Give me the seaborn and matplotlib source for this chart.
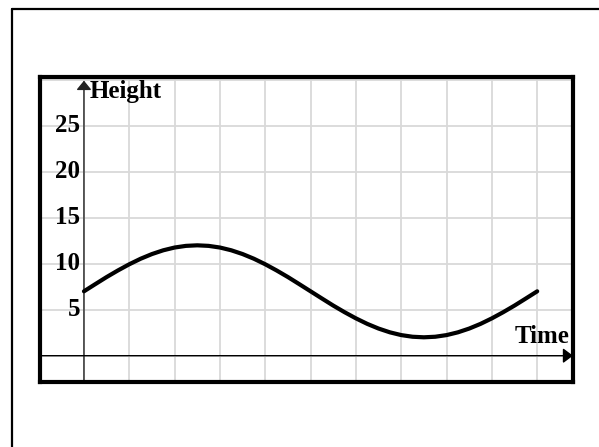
import matplotlib
matplotlib.use("Agg")
import matplotlib.pyplot as plt
from matplotlib.lines import Line2D
import seaborn as sns
import pandas as pd

# Data (time in grid units, height)
time = [0, 0.25, 0.5, 0.75, 1, 1.25, 1.5, 1.75, 2, 2.25, 2.5, 2.75, 3, 3.25, 3.5, 3.75,
        4, 4.25, 4.5, 4.75, 5, 5.25, 5.5, 5.75, 6, 6.25, 6.5, 6.75, 7, 7.25, 7.5, 7.75,
        8, 8.25, 8.5, 8.75, 9, 9.25, 9.5, 9.75, 10]
height = [7.00, 7.78, 8.55, 9.27, 9.94, 10.54, 11.05, 11.46, 11.76, 11.94, 12.00, 11.94,
          11.76, 11.46, 11.05, 10.54, 9.94, 9.27, 8.55, 7.78, 7.00, 6.22, 5.45, 4.73,
          4.06, 3.46, 2.95, 2.54, 2.24, 2.06, 2.00, 2.06, 2.24, 2.54, 2.95, 3.46, 4.06,
          4.73, 5.45, 6.22, 7.00]
y_tick_values = [5, 10, 15, 20, 25]
y_tick_labels = ["5", "10", "15", "20", "25"]
x_grid = list(range(0, 11))
y_grid = list(range(0, 31, 5))
x_label = "Time"
y_label = "Height"

sns.set_style("white")
plt.rcParams['font.family'] = ['Liberation Serif', 'DejaVu Serif']
plt.rcParams['text.color'] = 'black'

W, H = 599, 447
fig = plt.figure(figsize=(W / 100, H / 100), dpi=100)
left, right, top, bottom = 40, 573, 77, 382
ax = fig.add_axes([left / W, 1 - bottom / H, (right - left) / W, (bottom - top) / H])

df = pd.DataFrame({"Time": time, "Height": height})
sns.lineplot(data=df, x="Time", y="Height", ax=ax, color="black", linewidth=3.0,
             zorder=5, legend=False)

ax.set_xlim(-0.97, 10.79)
ax.set_ylim(-2.86, 30.3)
ax.set_xticks(x_grid)
ax.set_yticks(y_grid)
ax.grid(True, color="#d9d9d9", linewidth=1.3)
ax.tick_params(length=0, labelleft=False, labelbottom=False)
ax.set_xlabel("")
ax.set_ylabel("")
for s in ax.spines.values():
    s.set_visible(True)
    s.set_color("black")
    s.set_linewidth(3.0)
    s.set_zorder(10)

# axes with arrows
ax.annotate("", xy=(0, 0.988), xycoords=("data", "axes fraction"),
            xytext=(0, 0), textcoords=("data", "axes fraction"),
            arrowprops=dict(arrowstyle="-|>,head_length=0.55,head_width=0.45",
                            color="#222222", lw=1.0, shrinkA=0, shrinkB=0), zorder=4)
ax.annotate("", xy=(1, 0), xycoords=("axes fraction", "data"),
            xytext=(0, 0), textcoords=("axes fraction", "data"),
            arrowprops=dict(arrowstyle="-|>,head_length=0.6,head_width=0.45",
                            color="black", lw=1.0, shrinkA=0, shrinkB=0), zorder=4)

for v, lab in zip(y_tick_values, y_tick_labels):
    ax.text(-0.09, v, lab, ha="right", va="center", fontsize=18, fontweight="bold",
            color="black", zorder=6)

ax.text(0.13, 28.0, y_label, ha="left", va="baseline", fontsize=18, fontweight="bold",
        color="black", zorder=6)
ax.text(9.51, 1.38, x_label, ha="left", va="baseline", fontsize=18, fontweight="bold",
        color="black", zorder=6)

# outer frame (top and left edges visible)
fig.add_artist(Line2D([12 / W, 1], [1 - 9 / H, 1 - 9 / H], transform=fig.transFigure,
                      color="black", lw=1.6))
fig.add_artist(Line2D([12 / W, 12 / W], [0, 1 - 9 / H], transform=fig.transFigure,
                      color="black", lw=1.6))

fig.savefig("out.png", dpi=100, facecolor="white")
